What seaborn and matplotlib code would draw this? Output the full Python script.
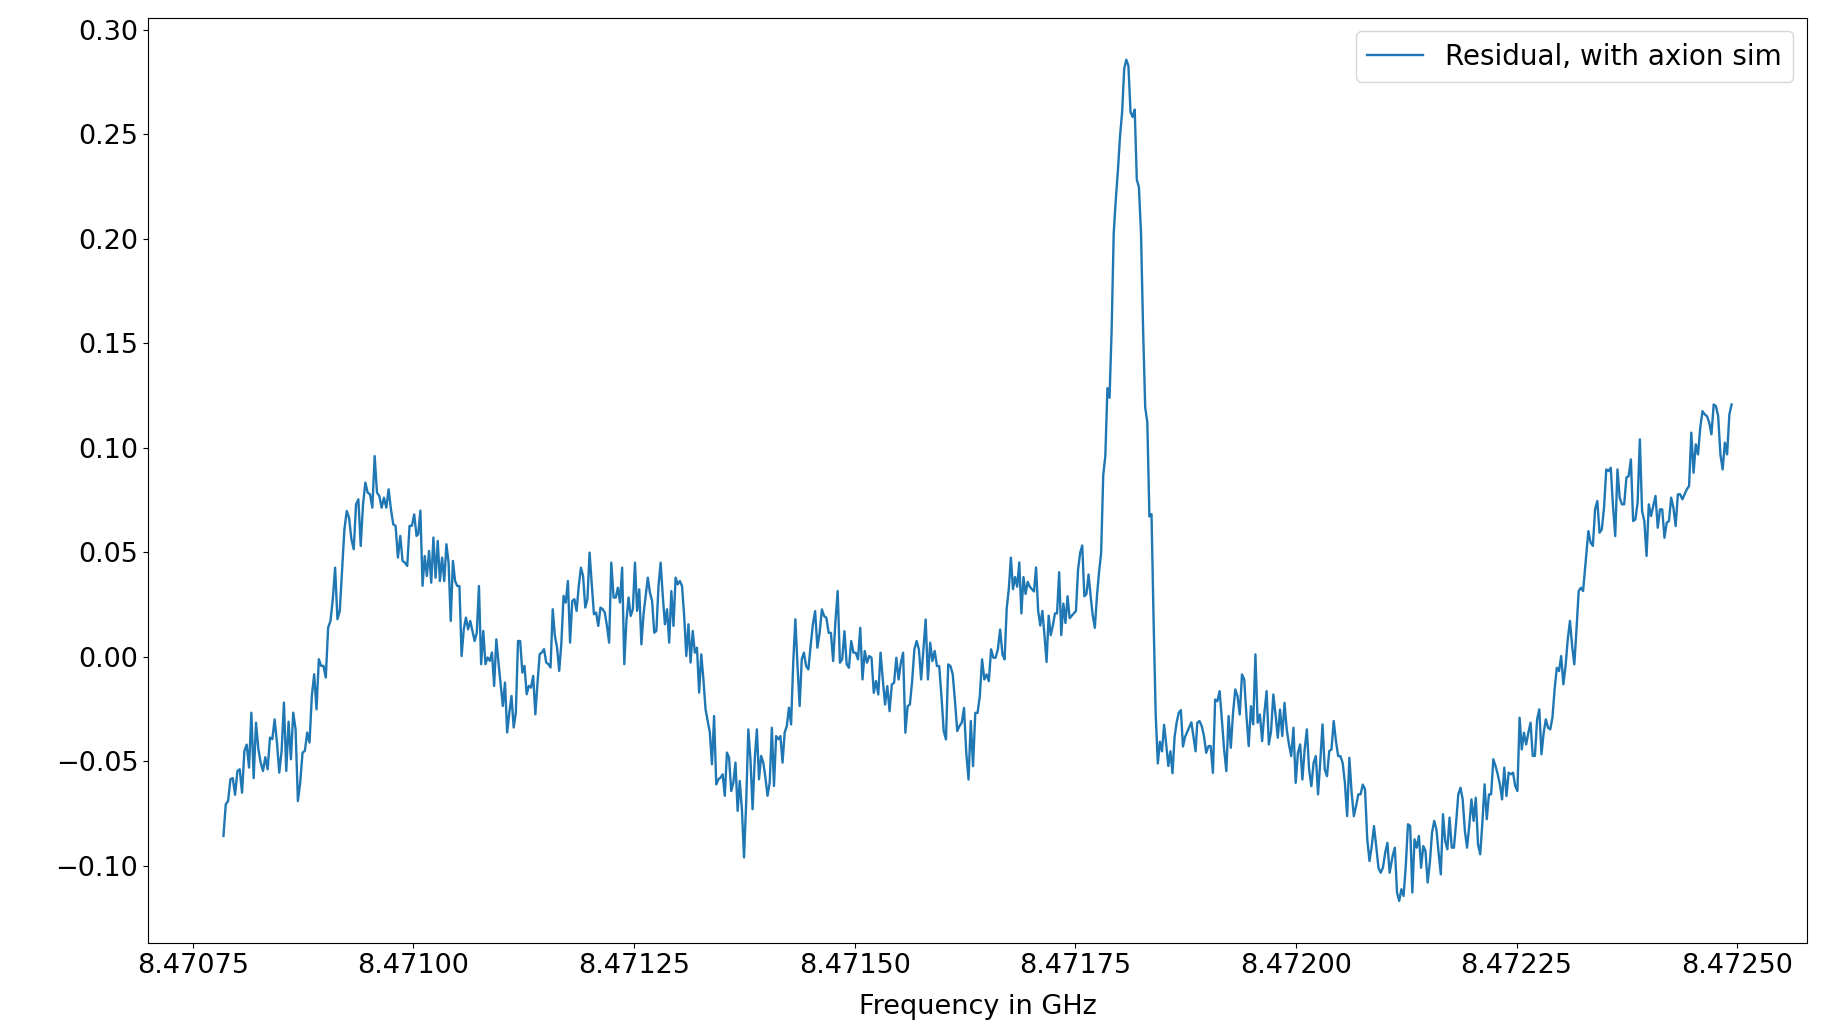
import numpy as np
import pandas as pd
import matplotlib
matplotlib.use("Agg")
import matplotlib.pyplot as plt
import seaborn as sns

# Frequency span (GHz) covered by each block of residual samples
seg_start_ghz = [8.4707847, 8.4710054, 8.4712268, 8.4714475,
                 8.4716675, 8.4718882, 8.4721096, 8.4723314]
seg_end_ghz = [8.4710035, 8.4712242, 8.4714449, 8.4716648,
               8.4718863, 8.4721062, 8.4723254, 8.4724937]

resid_seg1 = [-0.0857, -0.0705, -0.069, -0.0586, -0.058, -0.066, -0.0546, -0.0538, -0.065, -0.045,
              -0.042, -0.053, -0.0267, -0.058, -0.0315, -0.044, -0.0506, -0.0546, -0.048, -0.0538,
              -0.0386, -0.0394, -0.0299, -0.041, -0.0554, -0.045, -0.0219, -0.0546, -0.031, -0.049,
              -0.0267, -0.0346, -0.069, -0.0601, -0.0458, -0.045, -0.0362, -0.041, -0.0187, -0.0083,
              -0.0251, -0.0011, -0.0043, -0.0043, -0.0099, 0.014, 0.0172, 0.0276, 0.0427, 0.018,
              0.022, 0.0419, 0.0611, 0.0698, 0.0666, 0.0563, 0.0515, 0.073, 0.0754, 0.0531,
              0.073, 0.0834, 0.0786, 0.0778, 0.0714, 0.0961, 0.0786, 0.077, 0.0714, 0.0762,
              0.0714, 0.0802, 0.0706, 0.0634, 0.0627, 0.0475, 0.0579, 0.0459, 0.0451, 0.0435,
              0.0627, 0.0627, 0.0682, 0.0579]
resid_seg2 = [0.0587, 0.070, 0.034, 0.0483, 0.0387, 0.0507, 0.0355, 0.0571, 0.0379, 0.0555,
              0.0363, 0.0475, 0.0363, 0.0539, 0.0451, 0.0172, 0.0459, 0.0363, 0.0339, 0.0339,
              0.0004, 0.0132, 0.0188, 0.0132, 0.0172, 0.0124, 0.0076, 0.0116, 0.0339, -0.0035,
              0.0124, -0.0035, -0.0003, -0.0019, 0.0021, -0.0139, 0.0084, -0.0027, -0.0131, -0.0235,
              -0.0123, -0.0362, -0.0267, -0.0187, -0.0338, -0.0267, 0.0076, 0.0076, -0.0075, -0.0043,
              -0.0179, -0.0139, -0.0147, -0.0091, -0.0275, -0.0123, 0.0013, 0.0021, 0.0037, -0.0027,
              -0.0035, -0.0051, 0.0228, 0.010, 0.0045, -0.0067, 0.0068, 0.0292, 0.026, 0.0363,
              0.0068, 0.0268, 0.0276, 0.022, 0.0339, 0.0427, 0.0387, 0.0236, 0.0276, 0.0499,
              0.0347, 0.0204, 0.0212, 0.0148, 0.0236, 0.0228, 0.0212, 0.0148, 0.0068, 0.0451]
resid_seg3 = [0.0284, 0.0284, 0.0331, 0.026, 0.0427, -0.0035, 0.0172, 0.0284, 0.0196, 0.0228,
              0.0451, 0.022, 0.0323, 0.006, 0.0204, 0.0292, 0.0379, 0.0307, 0.0268, 0.0116,
              0.0124, 0.0339, 0.0451, 0.0292, 0.0156, 0.0228, 0.0068, 0.0315, 0.0148, 0.0379,
              0.0347, 0.0363, 0.0339, 0.0196, 0.0004, 0.0156, -0.0027, 0.0124, 0.002, 0.0044,
              -0.0171, 0.0012, -0.0107, -0.0251, -0.0307, -0.0362, -0.0514, -0.0283, -0.061, -0.0586,
              -0.0578, -0.0562, -0.0665, -0.0458, -0.0482, -0.0642, -0.0602, -0.0506, -0.0737, -0.0594,
              -0.0729, -0.096, -0.0697, -0.0347, -0.049, -0.0729, -0.049, -0.0347, -0.0586, -0.0474,
              -0.0506, -0.0578, -0.0665, -0.0602, -0.0339, -0.0618, -0.0379, -0.0394, -0.0379, -0.0506,
              -0.0362, -0.0331, -0.0243, -0.0323, -0.0027, 0.018, -0.0043, -0.0235, -0.0011, 0.002,
              -0.0043]
resid_seg4 = [-0.006, 0.0052, 0.0155, 0.0219, 0.0044, 0.0115, 0.0227, 0.0195, 0.0187, 0.0115,
              0.0115, -0.002, 0.0171, 0.0315, -0.0028, -0.0012, 0.0123, -0.0036, -0.0052, 0.0076,
              0.002, 0.002, -0.0012, 0.0139, -0.0108, 0.0028, -0.0028, 0.0004, -0.0004, -0.0172,
              -0.0116, -0.018, 0.002, -0.0108, -0.0228, -0.014, -0.026, -0.0132, -0.0124, -0.0004,
              -0.0108, -0.0028, 0.002, -0.0363, -0.0236, -0.0228, -0.0116, 0.0036, 0.0076, 0.0036,
              -0.0108, 0.0036, 0.0179, -0.0108, 0.0068, -0.002, 0.0028, -0.0044, -0.0044, -0.0188,
              -0.0355, -0.0395, -0.0036, -0.0044, -0.0084, -0.0212, -0.0355, -0.0331, -0.0315, -0.0244,
              -0.0459, -0.0587, -0.0307, -0.0523, -0.0268, -0.0268, -0.0188, -0.0012, -0.0108, -0.0084,
              -0.0116, 0.0036, -0.0004, -0.0004, 0.0036, 0.0131]
resid_seg5 = [0.0011, -0.0012, 0.0231, 0.0324, 0.0475, 0.0324, 0.0382, 0.0336, 0.0452, 0.0208,
              0.0382, 0.0301, 0.0359, 0.0336, 0.0324, 0.0313, 0.0428, 0.022, 0.015, 0.022,
              0.0104, -0.0024, 0.0197, 0.0104, 0.015, 0.0208, 0.0208, 0.0405, 0.0104, 0.0255,
              0.0162, 0.029, 0.0185, 0.0197, 0.0208, 0.022, 0.0417, 0.0498, 0.0533, 0.029,
              0.0301, 0.0394, 0.029, 0.0197, 0.0139, 0.029, 0.0405, 0.0498, 0.0869, 0.0962,
              0.1286, 0.124, 0.1564, 0.2028, 0.219, 0.2329, 0.2491, 0.2607, 0.2816, 0.2858,
              0.2828, 0.2607, 0.2584, 0.2619, 0.2283, 0.2248, 0.2028, 0.1564, 0.1193, 0.1124,
              0.0672, 0.0683, 0.0173, -0.0279, -0.051, -0.0406, -0.0452, -0.0325, -0.0418, -0.0522,
              -0.0452, -0.0557, -0.0383, -0.0313, -0.0267, -0.0255, -0.0429, -0.0383, -0.036, -0.0337,
              -0.0313, -0.0383, -0.0452]
resid_seg6 = [-0.0315, -0.0307, -0.0331, -0.0379, -0.0459, -0.0427, -0.0427, -0.0555, -0.0204, -0.0212,
              -0.0164, -0.0299, -0.0443, -0.0547, -0.0283, -0.0435, -0.0268, -0.0156, -0.0188, -0.0276,
              -0.0084, -0.0108, -0.0283, -0.0427, -0.0236, -0.0323, 0.0012, -0.0315, -0.0276, -0.0403,
              -0.0268, -0.0164, -0.0419, -0.0355, -0.018, -0.0276, -0.0387, -0.0252, -0.0379, -0.022,
              -0.0347, -0.0419, -0.0475, -0.0339, -0.0603, -0.0459, -0.0419, -0.0587, -0.0443, -0.0347,
              -0.0539, -0.0619, -0.0507, -0.0475, -0.0658, -0.0499, -0.0323, -0.0539, -0.0571, -0.0451,
              -0.0443, -0.0307, -0.0403, -0.0475, -0.0475, -0.0507, -0.0603, -0.0762, -0.0483, -0.065,
              -0.0762, -0.0714, -0.0658, -0.0658, -0.0611, -0.0634, -0.0874, -0.0977, -0.0906, -0.081,
              -0.0906, -0.1009, -0.1033, -0.1009, -0.0938, -0.089, -0.1033]
resid_seg7 = [-0.0953, -0.0913, -0.1128, -0.1168, -0.1112, -0.1144, -0.1001, -0.0801, -0.0809, -0.1128,
              -0.0873, -0.0913, -0.0857, -0.1009, -0.0905, -0.0929, -0.108, -0.0985, -0.0841, -0.0785,
              -0.0825, -0.0937, -0.1041, -0.0753, -0.0881, -0.0921, -0.0769, -0.0913, -0.0913, -0.0793,
              -0.0658, -0.0626, -0.0682, -0.0833, -0.0913, -0.0809, -0.0682, -0.0785, -0.0674, -0.0897,
              -0.0945, -0.0793, -0.061, -0.0777, -0.0658, -0.0658, -0.049, -0.0522, -0.0562, -0.061,
              -0.0682, -0.053, -0.0666, -0.0554, -0.0562, -0.0554, -0.0618, -0.0642, -0.0291, -0.0443,
              -0.0363, -0.0419, -0.0363, -0.0315, -0.0474, -0.0474, -0.0299, -0.0251, -0.0466, -0.0363,
              -0.0299, -0.0339, -0.0347, -0.0291, -0.0155, -0.0052, -0.0068, 0.0004, -0.0131, -0.0044,
              0.0084, 0.0172, 0.0052, -0.0036, 0.0132, 0.0315, 0.0331, 0.0315]
resid_seg8 = [0.0602, 0.0547, 0.0531, 0.0706, 0.0746, 0.0594, 0.061, 0.0714, 0.0897, 0.0889,
              0.0905, 0.0722, 0.0578, 0.0897, 0.0762, 0.073, 0.073, 0.0858, 0.0865, 0.0945,
              0.065, 0.0658, 0.0738, 0.1041, 0.0698, 0.065, 0.0483, 0.073, 0.0674, 0.0722,
              0.077, 0.0618, 0.0706, 0.0706, 0.057, 0.0642, 0.065, 0.0762, 0.0714, 0.0626,
              0.0778, 0.0778, 0.0754, 0.0778, 0.0802, 0.0818, 0.1073, 0.0881, 0.1017, 0.0969,
              0.1097, 0.1176, 0.116, 0.1152, 0.1121, 0.1065, 0.1208, 0.12, 0.1152, 0.0969,
              0.0897, 0.1025, 0.0969, 0.116, 0.1208]

resid_segments = [resid_seg1, resid_seg2, resid_seg3, resid_seg4,
                  resid_seg5, resid_seg6, resid_seg7, resid_seg8]

# Each block is sampled on an evenly spaced frequency grid over its span
freq = np.concatenate([np.linspace(f0, f1, len(vals))
                       for f0, f1, vals in zip(seg_start_ghz, seg_end_ghz, resid_segments)])
resid = np.concatenate([np.asarray(v, dtype=float) for v in resid_segments])
df = pd.DataFrame({"freq": freq, "resid": resid})

plt.rcParams["font.family"] = ["DejaVu Sans"]
plt.rcParams["font.size"] = 19.5

fig = plt.figure(figsize=(18.39, 10.23), dpi=100)
ax = fig.add_axes([0.0805, 0.0782, 0.9021, 0.9046])

sns.lineplot(data=df, x="freq", y="resid", ax=ax, estimator=None, sort=False,
             color="#1f77b4", linewidth=1.7, label="Residual, with axion sim")

ax.ticklabel_format(axis="x", useOffset=False, style="plain")
ax.set_xlabel("Frequency in GHz", labelpad=11)
ax.set_ylabel("")
ax.legend(loc="upper right", fontsize=20)

fig.savefig("out.png", dpi=100)
